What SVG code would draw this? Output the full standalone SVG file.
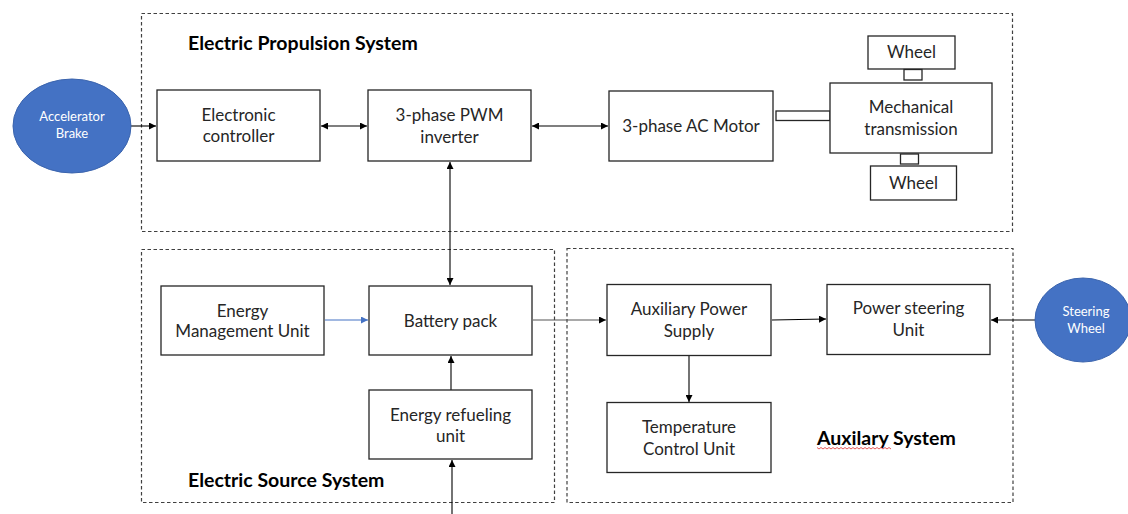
<svg xmlns="http://www.w3.org/2000/svg" width="1128" height="514" viewBox="0 0 1128 514">
<style>
.bg{fill:#fff}
.grp{fill:none;stroke:#404040;stroke-width:1.2;stroke-dasharray:3.5,2.5}
.box{fill:#fff;stroke:#262626;stroke-width:1.3}
.t{font-family:Lato,"Liberation Sans",sans-serif;font-size:17px;fill:#262626;text-anchor:middle}
.title{font-family:Lato,"Liberation Sans",sans-serif;font-size:19.5px;font-weight:bold;fill:#000}
.ell{fill:#4472c4;stroke:#3b64ad;stroke-width:1}
.et{font-family:Lato,"Liberation Sans",sans-serif;font-size:13px;fill:#fff;text-anchor:middle}
.c{fill:none;stroke:#000;stroke-width:1.1}
</style>
<defs>
<marker id="a" viewBox="0 0 10 10" refX="10" refY="5" markerWidth="7" markerHeight="7" markerUnits="userSpaceOnUse" orient="auto-start-reverse">
<path d="M0,0 L10,5 L0,10 z" fill="#000"/>
</marker>
<marker id="ab" viewBox="0 0 10 10" refX="10" refY="5" markerWidth="7" markerHeight="7" markerUnits="userSpaceOnUse" orient="auto-start-reverse">
<path d="M0,0 L10,5 L0,10 z" fill="#4472c4"/>
</marker>
</defs>
<rect class="bg" x="0" y="0" width="1128" height="514"/>

<g id="groups">
<rect class="grp" x="141.5" y="13.5" width="871" height="218"/>
<rect class="grp" x="141.5" y="249.5" width="413" height="253"/>
<rect class="grp" x="567" y="248.5" width="446" height="254"/>
<text class="title" x="188" y="49.5">Electric Propulsion System</text>
<text class="title" x="188" y="487">Electric Source System</text>
<text class="title" x="817" y="444.5">Auxilary System</text>
<path d="M817,447.5 l2,1.5 l2,-1.5 l2,1.5 l2,-1.5 l2,1.5 l2,-1.5 l2,1.5 l2,-1.5 l2,1.5 l2,-1.5 l2,1.5 l2,-1.5 l2,1.5 l2,-1.5 l2,1.5 l2,-1.5 l2,1.5 l2,-1.5 l2,1.5 l2,-1.5 l2,1.5 l2,-1.5 l2,1.5 l2,-1.5 l2,1.5 l2,-1.5 l2,1.5 l2,-1.5 l2,1.5 l2,-1.5 l2,1.5 l2,-1.5 l2,1.5 l2,-1.5 l2,1.5 l2,-1.5 l2,1.5" fill="none" stroke="#e03030" stroke-width="0.8"/>
</g>

<g id="connectors">
<line class="c" x1="131" y1="126" x2="156" y2="126" marker-end="url(#a)"/>
<line class="c" x1="321" y1="126" x2="367" y2="126" marker-start="url(#a)" marker-end="url(#a)"/>
<line class="c" x1="532" y1="126" x2="608" y2="126" marker-start="url(#a)" marker-end="url(#a)"/>
<line class="c" x1="450" y1="162" x2="450" y2="285" marker-start="url(#a)" marker-end="url(#a)"/>
<line x1="325" y1="320" x2="368" y2="320" stroke="#4472c4" stroke-width="1.1" marker-end="url(#ab)"/>
<line class="c" x1="451" y1="390" x2="451" y2="356" marker-end="url(#a)"/>
<line class="c" x1="452" y1="514" x2="452" y2="460" marker-end="url(#a)"/>
<line x1="533" y1="320" x2="606" y2="320" stroke="#555" stroke-width="1.1" marker-end="url(#a)"/>
<line class="c" x1="772" y1="320" x2="826" y2="319" marker-end="url(#a)"/>
<line class="c" x1="1035" y1="320" x2="991" y2="320" marker-end="url(#a)"/>
<line class="c" x1="689" y1="356" x2="689" y2="402" marker-end="url(#a)"/>
</g>

<g id="accelerator">
<ellipse class="ell" cx="72" cy="126" rx="59" ry="47"/>
<text class="et" x="72" y="121">Accelerator</text>
<text class="et" x="72" y="138">Brake</text>
</g>
<g id="electronic-controller">
<rect class="box" x="157" y="90" width="163" height="71"/>
<text class="t" x="238.5" y="121">Electronic</text>
<text class="t" x="238.5" y="142">controller</text>
</g>
<g id="pwm-inverter">
<rect class="box" x="368" y="90" width="163" height="71"/>
<text class="t" x="449.5" y="121">3-phase PWM</text>
<text class="t" x="449.5" y="143">inverter</text>
</g>
<g id="ac-motor">
<rect class="box" x="609" y="91" width="164" height="70"/>
<text class="t" x="691" y="132">3-phase AC Motor</text>
</g>
<g id="shaft">
<rect class="box" x="776" y="111" width="54" height="9.5"/>
</g>
<g id="mechanical-transmission">
<rect class="box" x="830" y="83" width="162" height="70"/>
<text class="t" x="911" y="113">Mechanical</text>
<text class="t" x="911" y="135">transmission</text>
</g>
<g id="wheel-top">
<rect class="box" x="868" y="36" width="87" height="33"/>
<text class="t" x="911.5" y="58">Wheel</text>
<rect class="box" x="904" y="69.5" width="18" height="10.5"/>
</g>
<g id="wheel-bottom">
<rect class="box" x="900.5" y="154" width="18" height="10"/>
<rect class="box" x="870.5" y="166" width="86" height="34"/>
<text class="t" x="913.5" y="189">Wheel</text>
</g>

<g id="energy-management-unit">
<rect class="box" x="161" y="286" width="163" height="69"/>
<text class="t" x="242.5" y="317">Energy</text>
<text class="t" x="242.5" y="337">Management Unit</text>
</g>
<g id="battery-pack">
<rect class="box" x="369" y="286" width="163" height="69"/>
<text class="t" x="450.5" y="327">Battery pack</text>
</g>
<g id="energy-refueling-unit">
<rect class="box" x="369" y="390" width="163" height="69"/>
<text class="t" x="450.5" y="421">Energy refueling</text>
<text class="t" x="450.5" y="442">unit</text>
</g>

<g id="auxiliary-power-supply">
<rect class="box" x="607" y="284.5" width="164" height="71"/>
<text class="t" x="689" y="315">Auxiliary Power</text>
<text class="t" x="689" y="337">Supply</text>
</g>
<g id="power-steering-unit">
<rect class="box" x="827" y="284.5" width="163" height="70"/>
<text class="t" x="908.5" y="314">Power steering</text>
<text class="t" x="908.5" y="336">Unit</text>
</g>
<g id="temperature-control-unit">
<rect class="box" x="607" y="402.5" width="164" height="70"/>
<text class="t" x="689" y="433">Temperature</text>
<text class="t" x="689" y="455">Control Unit</text>
</g>
<g id="steering-wheel">
<ellipse class="ell" cx="1083" cy="320" rx="48" ry="42"/>
<text class="et" x="1086" y="316">Steering</text>
<text class="et" x="1086" y="333">Wheel</text>
</g>
</svg>
